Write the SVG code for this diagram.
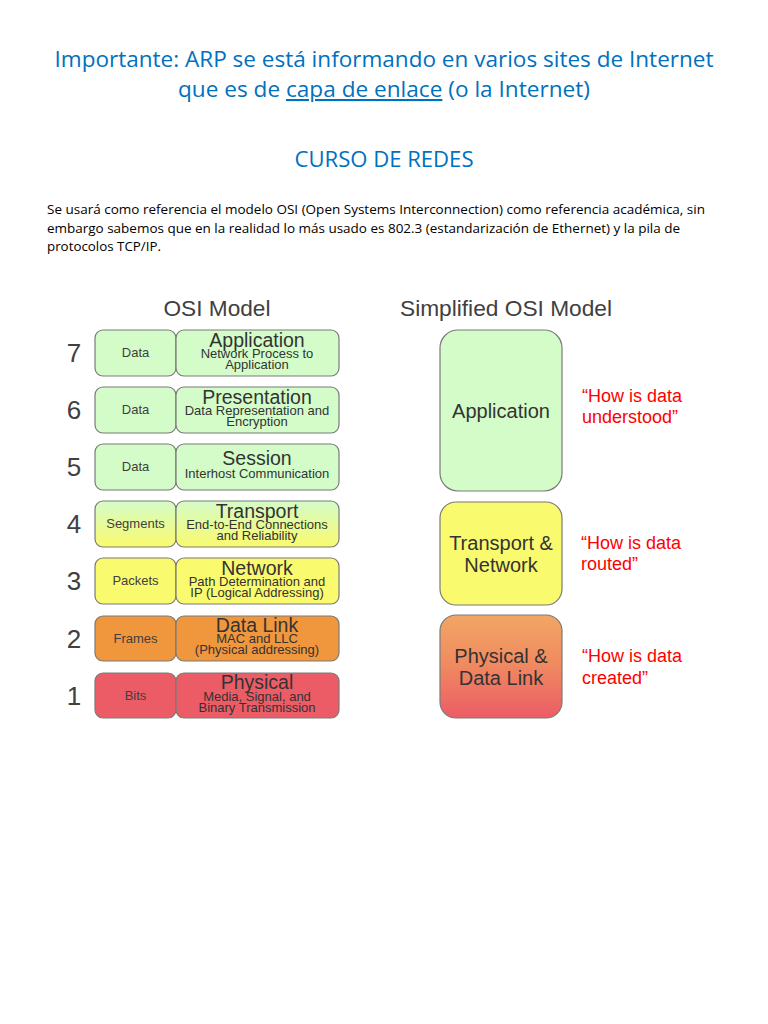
<svg xmlns="http://www.w3.org/2000/svg" width="768" height="1024" viewBox="0 0 768 1024">
<style>
.title{font-family:"Open Sans","Liberation Sans",sans-serif;fill:#0070c0}
.para{font-family:"Open Sans","Liberation Sans",sans-serif;font-size:12.5px;fill:#000}
.hd{font-family:"Liberation Sans",Arial,sans-serif;font-size:22px;fill:#404040}
.num{font-family:"Liberation Sans",Arial,sans-serif;font-size:26px;fill:#404040;text-anchor:middle}
.box{stroke:#7a7a7a;stroke-width:1.2}
.pdu{font-family:"Liberation Sans",Arial,sans-serif;font-size:13px;fill:#404040;text-anchor:middle}
.ln{font-family:"Liberation Sans",Arial,sans-serif;font-size:19.5px;fill:#333;text-anchor:middle}
.ld{font-family:"Liberation Sans",Arial,sans-serif;font-size:13px;fill:#333;text-anchor:middle}
.sn{font-family:"Liberation Sans",Arial,sans-serif;font-size:20px;fill:#333;text-anchor:middle}
.q{font-family:"Liberation Sans",Arial,sans-serif;font-size:18px;fill:#ff0000}
.g{fill:#d4fcc8}.y{fill:#fafa6e}.o{fill:#f0963c}.r{fill:#ec5c66}
</style>
<defs>
<linearGradient id="gy" x1="0" y1="0" x2="0" y2="1"><stop offset="0" stop-color="#d4fcc8"/><stop offset="1" stop-color="#fafa6e"/></linearGradient>
<linearGradient id="or" x1="0" y1="0" x2="0" y2="1"><stop offset="0" stop-color="#f2a664"/><stop offset="0.45" stop-color="#f08c60"/><stop offset="1" stop-color="#ec5c66"/></linearGradient>
</defs>
<rect width="768" height="1024" fill="#fff"/>
<g id="header">
<text class="title" x="384" y="67" font-size="21" text-anchor="middle" textLength="659" lengthAdjust="spacingAndGlyphs">Importante: ARP se está informando en varios sites de Internet</text>
<text class="title" x="178" y="97" font-size="21" textLength="412" lengthAdjust="spacingAndGlyphs">que es de <tspan text-decoration="underline">capa de enlace</tspan> (o la Internet)</text>
<text class="title" x="384" y="167" font-size="21" text-anchor="middle" textLength="179" lengthAdjust="spacingAndGlyphs">CURSO DE REDES</text>
<text class="para" x="47" y="214" textLength="658" lengthAdjust="spacingAndGlyphs">Se usará como referencia el modelo OSI (Open Systems Interconnection) como referencia académica, sin</text>
<text class="para" x="47" y="233" textLength="633" lengthAdjust="spacingAndGlyphs">embargo sabemos que en la realidad lo más usado es 802.3 (estandarización de Ethernet) y la pila de</text>
<text class="para" x="47" y="251" textLength="114" lengthAdjust="spacingAndGlyphs">protocolos TCP/IP.</text>
</g>
<g id="osi">
<text class="hd" x="217" y="316" text-anchor="middle" textLength="107" lengthAdjust="spacingAndGlyphs">OSI Model</text>
<g id="layer7">
<text class="num" x="74" y="362">7</text>
<rect class="box g" x="95" y="330" width="81" height="46" rx="8"/>
<rect class="box g" x="176" y="330" width="163" height="46" rx="8"/>
<text class="pdu" x="135.5" y="357">Data</text>
<text class="ln" x="257" y="347">Application</text>
<text class="ld" x="257" y="358">Network Process to</text>
<text class="ld" x="257" y="369">Application</text>
</g>
<g id="layer6">
<text class="num" x="74" y="419">6</text>
<rect class="box g" x="95" y="387" width="81" height="46" rx="8"/>
<rect class="box g" x="176" y="387" width="163" height="46" rx="8"/>
<text class="pdu" x="135.5" y="414">Data</text>
<text class="ln" x="257" y="404">Presentation</text>
<text class="ld" x="257" y="415">Data Representation and</text>
<text class="ld" x="257" y="426">Encryption</text>
</g>
<g id="layer5">
<text class="num" x="74" y="476">5</text>
<rect class="box g" x="95" y="444" width="81" height="46" rx="8"/>
<rect class="box g" x="176" y="444" width="163" height="46" rx="8"/>
<text class="pdu" x="135.5" y="471">Data</text>
<text class="ln" x="257" y="465">Session</text>
<text class="ld" x="257" y="478">Interhost Communication</text>
</g>
<g id="layer4">
<text class="num" x="74" y="533">4</text>
<rect class="box" fill="url(#gy)" x="95" y="501" width="81" height="46" rx="8"/>
<rect class="box" fill="url(#gy)" x="176" y="501" width="163" height="46" rx="8"/>
<text class="pdu" x="135.5" y="528">Segments</text>
<text class="ln" x="257" y="518">Transport</text>
<text class="ld" x="257" y="529">End-to-End Connections</text>
<text class="ld" x="257" y="540">and Reliability</text>
</g>
<g id="layer3">
<text class="num" x="74" y="590">3</text>
<rect class="box y" x="95" y="558" width="81" height="46" rx="8"/>
<rect class="box y" x="176" y="558" width="163" height="46" rx="8"/>
<text class="pdu" x="135.5" y="585">Packets</text>
<text class="ln" x="257" y="575">Network</text>
<text class="ld" x="257" y="586">Path Determination and</text>
<text class="ld" x="257" y="597">IP (Logical Addressing)</text>
</g>
<g id="layer2">
<text class="num" x="74" y="648">2</text>
<rect class="box o" x="95" y="616" width="81" height="45" rx="8"/>
<rect class="box o" x="176" y="616" width="163" height="45" rx="8"/>
<text class="pdu" x="135.5" y="643">Frames</text>
<text class="ln" x="257" y="632">Data Link</text>
<text class="ld" x="257" y="643">MAC and LLC</text>
<text class="ld" x="257" y="654">(Physical addressing)</text>
</g>
<g id="layer1">
<text class="num" x="74" y="705">1</text>
<rect class="box r" x="95" y="673" width="81" height="45" rx="8"/>
<rect class="box r" x="176" y="673" width="163" height="45" rx="8"/>
<text class="pdu" x="135.5" y="700">Bits</text>
<text class="ln" x="257" y="689">Physical</text>
<text class="ld" x="257" y="701">Media, Signal, and</text>
<text class="ld" x="257" y="712">Binary Transmission</text>
</g>
</g>
<g id="simplified">
<text class="hd" x="506" y="316" text-anchor="middle" textLength="212" lengthAdjust="spacingAndGlyphs">Simplified OSI Model</text>
<g id="s-app">
<rect class="box g" x="440" y="330" width="122" height="161" rx="18"/>
<text class="sn" x="501" y="418">Application</text>
<text class="q" x="582" y="402">“How is data</text>
<text class="q" x="582" y="423">understood”</text>
</g>
<g id="s-tn">
<rect class="box y" x="440" y="502" width="122" height="103" rx="16"/>
<text class="sn" x="501" y="550">Transport &amp;</text>
<text class="sn" x="501" y="572">Network</text>
<text class="q" x="581" y="549">“How is data</text>
<text class="q" x="581" y="570">routed”</text>
</g>
<g id="s-pd">
<rect class="box" fill="url(#or)" x="440" y="615" width="122" height="103" rx="16"/>
<text class="sn" x="501" y="663">Physical &amp;</text>
<text class="sn" x="501" y="685">Data Link</text>
<text class="q" x="582" y="662">“How is data</text>
<text class="q" x="582" y="684">created”</text>
</g>
</g>
</svg>
